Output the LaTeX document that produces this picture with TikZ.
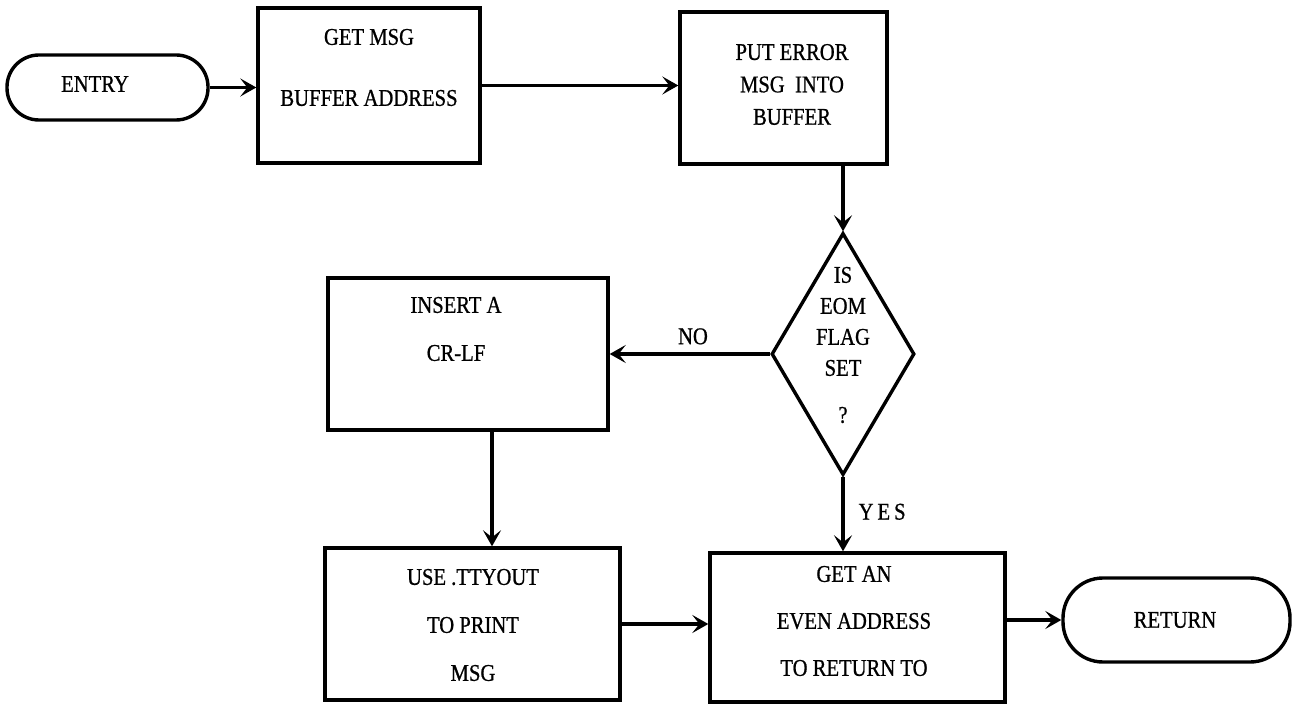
\documentclass[tikz,border=0pt]{standalone}
\usepackage{fontspec}
\setmainfont{Liberation Serif}
\newfontfamily\typerfont{Liberation Serif}[FakeStretch=0.86, FakeBold=0.8]
\usetikzlibrary{positioning,arrows.meta,shapes.geometric}

\begin{document}
\begin{tikzpicture}[x=0.5pt, y=-0.5pt,
  box/.style={draw, line width=1.7pt, rectangle, inner sep=0pt},
  term/.style={draw, line width=1.7pt, rectangle, inner sep=0pt},
  flow/.style={-{Stealth[length=8pt,width=9pt,inset=3.5pt]}, line width=1.6pt},
  txt/.style={font=\typerfont\fontsize{12}{14.4}\selectfont, align=center, inner sep=0pt}]
\useasboundingbox (0,0) rectangle (1299,704);
% outlines
\node[term, rounded corners=16pt, minimum width=100.5pt, minimum height=32.5pt] (entry) at (107.5,87.5) {};
\node[box, minimum width=111pt, minimum height=77.5pt] (getmsg) at (369,85.5) {};
\node[box, minimum width=103.5pt, minimum height=76pt] (puterr) at (783.5,88) {};
\node[draw, diamond, line width=1.7pt, inner sep=0pt, minimum width=71.5pt, minimum height=121pt] (eomflag) at (843,354) {};
\node[box, minimum width=140pt, minimum height=76pt] (insert) at (468,354) {};
\node[box, minimum width=147.5pt, minimum height=76pt] (useout) at (472.5,624) {};
\node[box, minimum width=147.5pt, minimum height=74.5pt] (getan) at (857.5,627.5) {};
\node[term, rounded corners=20pt, minimum width=113.5pt, minimum height=42pt] (return) at (1176.5,620) {};
% texts
\node[txt] (entrytxt) at (95,84) {ENTRY};
\node[txt] (getmsgtxt) at (369,67.5) {GET MSG\\[16.1pt]BUFFER ADDRESS};
\node[txt] (puterrtxt) at (792,84.5) {PUT ERROR\\[1.8pt]MSG~~INTO\\[1.8pt]BUFFER};
\node[txt] (eomtxt) at (843,345) {IS\\[1.1pt]EOM\\[1.1pt]FLAG\\[1.1pt]SET\\[9.1pt]?};
\node[txt] (inserttxt) at (456,329) {INSERT A\\[9.6pt]CR-LF};
\node[txt] (useouttxt) at (473,625) {USE .TTYOUT\\[9.6pt]TO PRINT\\[9.6pt]MSG};
\node[txt] (getantxt) at (854,621) {GET AN\\[9.1pt]EVEN ADDRESS\\[9.1pt]TO RETURN TO};
\node[txt] (returntxt) at (1175,620) {RETURN};
% flow lines
\draw[flow] (entry.east) -- (getmsg.west |- entry.east);
\draw[flow] (getmsg.east) -- (puterr.west |- getmsg.east);
\draw[flow] (puterr.south -| eomflag.north) -- (eomflag.north);
\draw[flow] (eomflag.west) -- (insert.east |- eomflag.west)
  node[txt, above=4pt, pos=0.48] (nolbl) {NO};
\draw[flow] ([xshift=12pt]insert.south) -- ([xshift=12pt]insert.south |- useout.north);
\draw[flow] (eomflag.south) -- (eomflag.south |- getan.north)
  node[txt, right=7pt, pos=0.47] (yeslbl) {Y\,E\,S};
\draw[flow] (useout.east) -- (getan.west |- useout.east);
\draw[flow] (getan.east |- return.west) -- (return.west);
\end{tikzpicture}
\end{document}
